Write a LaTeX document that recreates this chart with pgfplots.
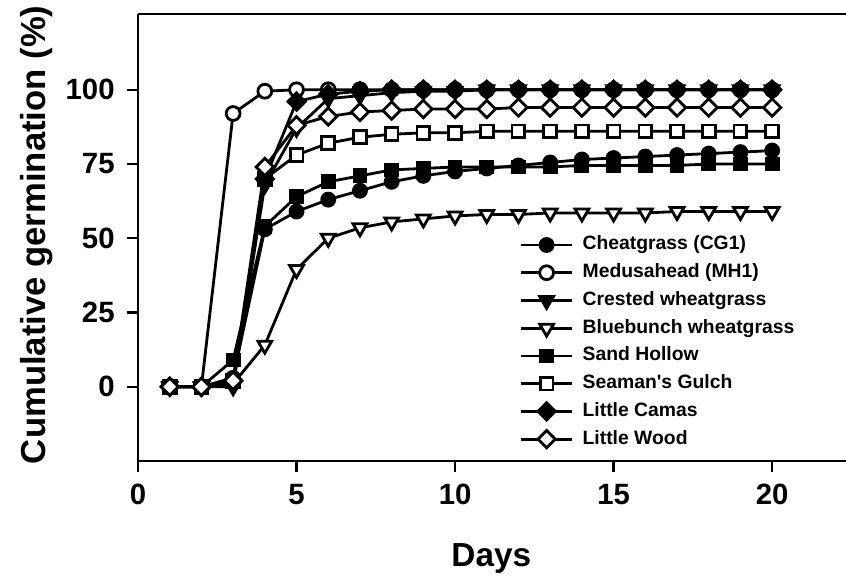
\documentclass[border=0pt]{standalone}
\usepackage{fontspec}
\setmainfont{Liberation Sans}
\usepackage{pgfplots}
\usepackage{pgfplotstable}
\pgfplotsset{compat=1.18}

\pgfplotstableread{
day cg mh cw bb sh sg lc lw
1 0 0 0 0 0 0 0 0
2 0 0 0 0 0 0 0 0
3 3 92 0 1 9 2 2 2
4 53 99.5 68 14 54 70 70 74
5 59 100 87 39.5 64 78 96 88
6 63 100 97 50 69 82 98.5 91
7 66 100 98 53.5 71 84 99.5 92.5
8 69 100 99 55.5 73 85 100 93
9 71 100 99.5 56.5 73.5 85.5 100 93.5
10 72.5 100 99.5 57.5 74 85.5 100 93.5
11 73.5 100 100 58 74 86 100 93.5
12 74.5 100 100 58 74 86 100 94
13 75.5 100 100 58.5 74 86 100 94
14 76.5 100 100 58.5 74.5 86 100 94
15 77 100 100 58.5 74.5 86 100 94
16 77.5 100 100 58.5 74.5 86 100 94
17 78 100 100 59 74.5 86 100 94
18 78.5 100 100 59 75 86 100 94
19 79 100 100 59 75 86 100 94
20 79.5 100 100 59 75 86 100 94
}\data

\begin{document}
\begin{tikzpicture}
\begin{axis}[
  scale only axis, width=531pt, height=335.25pt,
  xmin=0, xmax=22.33, ymin=-25, ymax=125.5,
  axis x line*=box, axis y line*=left,
  axis line style={line width=2.2pt},
  xtick={0,5,...,20}, ytick={0,25,...,100},
  xtick pos=left, ytick pos=left,
  tick align=outside, major tick length=8pt,
  tick style={line width=1.8pt, black},
  /pgf/number format/assume math mode=true,
  ticklabel style={font=\bfseries\fontsize{22}{22}\selectfont},
  xticklabel style={yshift=-6pt},
  yticklabel style={xshift=-6pt},
  xlabel={Days}, ylabel={Cumulative germination (\%)},
  xlabel style={font=\bfseries\fontsize{25}{25}\selectfont, at={(axis description cs:0.499,-0.237)}, anchor=base},
  ylabel style={font=\bfseries\fontsize{26}{26}\selectfont, at={(axis description cs:-0.131,0.506)}, anchor=base},
  legend style={at={(axis description cs:0.539,0.504)}, anchor=north west, draw=none, fill=none, inner sep=0pt,
    font=\bfseries\fontsize{14.5}{14.5}\selectfont, row sep=7.3pt, column sep=7pt,
    nodes={inner sep=0pt, text height=10.5pt, text depth=3pt}},
  legend cell align=left,
  legend image code/.code={\draw[mark repeat=2,mark phase=2] plot coordinates {(0pt,0pt)(19pt,0pt)(38pt,0pt)};},
  every axis plot/.append style={black, line width=2.1pt, mark options={line width=1.5pt, solid}},
]
\addplot[mark=*, mark size=5.2pt] table[x=day,y=cg] {\data};
\addlegendentry{Cheatgrass (CG1)}
\addplot[mark=*, mark size=5.2pt, mark options={fill=white}] table[x=day,y=mh] {\data};
\addlegendentry{Medusahead (MH1)}
\addplot[mark=triangle*, mark size=6pt, mark options={rotate=180}] table[x=day,y=cw] {\data};
\addlegendentry{Crested wheatgrass}
\addplot[mark=triangle*, mark size=6pt, mark options={rotate=180, fill=white}] table[x=day,y=bb] {\data};
\addlegendentry{Bluebunch wheatgrass}
\addplot[mark=square*, mark size=4.8pt] table[x=day,y=sh] {\data};
\addlegendentry{Sand Hollow}
\addplot[mark=square*, mark size=4.8pt, mark options={fill=white}] table[x=day,y=sg] {\data};
\addlegendentry{Seaman\textquotesingle s Gulch}
\addplot[mark=square*, mark size=4.6pt, mark options={rotate=45}] table[x=day,y=lc] {\data};
\addlegendentry{Little Camas}
\addplot[mark=square*, mark size=4.6pt, mark options={rotate=45, fill=white}] table[x=day,y=lw] {\data};
\addlegendentry{Little Wood}
\end{axis}
\pgfresetboundingbox
\useasboundingbox (-103.5pt,-87pt) rectangle (531pt,345.75pt);
\end{tikzpicture}
\end{document}
